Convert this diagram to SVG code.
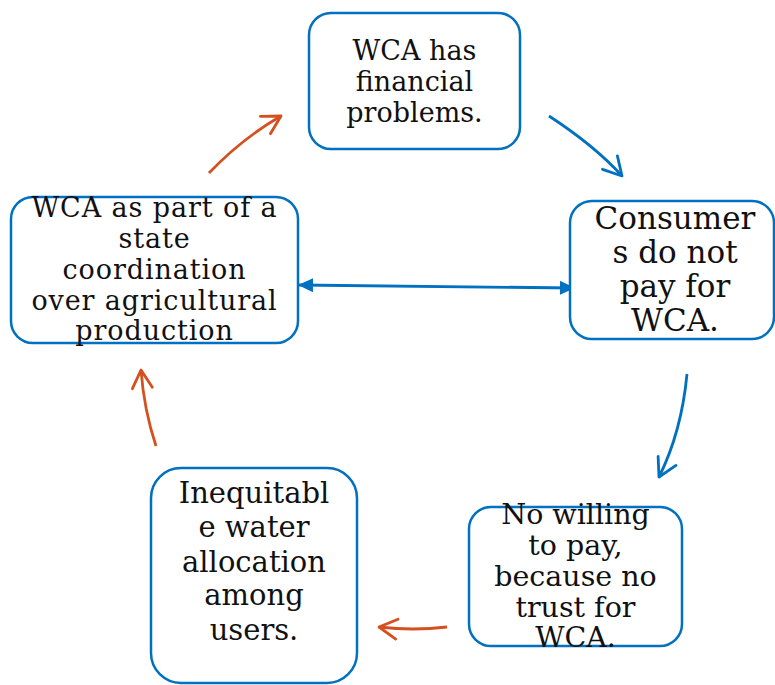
<svg xmlns="http://www.w3.org/2000/svg" width="775" height="685" viewBox="0 0 775 685">
<style>
.box{fill:#fff;stroke:#0070C0;stroke-width:2.5}
.t{font-family:"DejaVu Serif","Liberation Serif",serif;fill:#111;text-anchor:middle}
.cb{fill:none;stroke:#0070C0;stroke-width:2.8}
.co{fill:none;stroke:#D4501E;stroke-width:2.8}
</style>
<defs>
<marker id="ob" markerUnits="userSpaceOnUse" markerWidth="30" markerHeight="30" viewBox="-25 -15 30 30" refX="0" refY="0" orient="auto"><path d="M-18,-10 L0,0 L-18,10" fill="none" stroke="#0070C0" stroke-width="2.8" stroke-linecap="round" stroke-linejoin="round"/></marker>
<marker id="oo" markerUnits="userSpaceOnUse" markerWidth="30" markerHeight="30" viewBox="-25 -15 30 30" refX="0" refY="0" orient="auto"><path d="M-18,-10 L0,0 L-18,10" fill="none" stroke="#D4501E" stroke-width="2.8" stroke-linecap="round" stroke-linejoin="round"/></marker>
<marker id="fb" markerUnits="userSpaceOnUse" markerWidth="20" markerHeight="20" viewBox="-16 -10 20 20" refX="0" refY="0" orient="auto-start-reverse"><path d="M-15,-7 L0,0 L-15,7 Z" fill="#0070C0"/></marker>
</defs>
<g id="connectors">
<path class="co" d="M209,173 Q242,138.5 281,116" marker-end="url(#oo)"/>
<path class="cb" d="M549,116 Q595,146 622,176" marker-end="url(#ob)"/>
<path class="cb" d="M687,374 Q681.5,432 659,477" marker-end="url(#ob)"/>
<path class="co" d="M447,627 Q413,631 379,627" marker-end="url(#oo)"/>
<path class="co" d="M156,446 Q144,410 141,370" marker-end="url(#oo)"/>
<path class="cb" d="M298,285 L575,288" marker-start="url(#fb)" marker-end="url(#fb)"/>
</g>
<g id="n1">
<rect class="box" x="309" y="13" width="211" height="136" rx="22"/>
<text class="t" font-size="27"><tspan x="414.5" y="60">WCA has</tspan><tspan x="414.5" y="91">financial</tspan><tspan x="414.5" y="122">problems.</tspan></text>
</g>
<g id="n2">
<rect class="box" x="570" y="201" width="204" height="138" rx="22"/>
<text class="t" font-size="31"><tspan x="675" y="229">Consumer</tspan><tspan x="675" y="263">s do not</tspan><tspan x="675" y="297">pay for</tspan><tspan x="675" y="331">WCA.</tspan></text>
</g>
<g id="n3">
<rect class="box" x="469" y="507" width="213" height="139" rx="22"/>
<text class="t" font-size="28.5"><tspan x="575.5" y="524">No willing</tspan><tspan x="575.5" y="555">to pay,</tspan><tspan x="575.5" y="586">because no</tspan><tspan x="575.5" y="617">trust for</tspan><tspan x="575.5" y="647">WCA.</tspan></text>
</g>
<g id="n4">
<rect class="box" x="151" y="468" width="206" height="215" rx="30"/>
<text class="t" font-size="29"><tspan x="254" y="503">Inequitabl</tspan><tspan x="254" y="537">e water</tspan><tspan x="254" y="572">allocation</tspan><tspan x="254" y="605">among</tspan><tspan x="254" y="640">users.</tspan></text>
</g>
<g id="n5">
<rect class="box" x="11" y="197" width="287" height="146" rx="22"/>
<text class="t" font-size="27" letter-spacing="0.9"><tspan x="154.5" y="217">WCA as part of a</tspan><tspan x="154.5" y="248">state</tspan><tspan x="154.5" y="279">coordination</tspan><tspan x="154.5" y="310">over agricultural</tspan><tspan x="154.5" y="340">production</tspan></text>
</g>
</svg>
